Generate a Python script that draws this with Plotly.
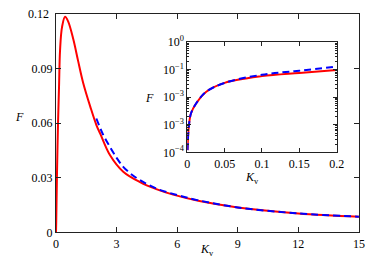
import plotly.graph_objects as go

# ---- data ----
k_red = [0, 0.002, 0.005, 0.012, 0.025, 0.05, 0.1, 0.15, 0.2, 0.3, 0.45, 0.6, 0.86, 1.1,
         1.35, 1.7, 2.0, 2.2, 2.67, 3.33, 4.16, 5.0, 5.8, 7.1, 9, 12, 15]
f_red = [0, 0.00085, 0.0026, 0.006, 0.0155, 0.033, 0.06, 0.08, 0.1, 0.113, 0.1185, 0.116,
         0.106, 0.094, 0.082, 0.069, 0.059, 0.054, 0.0425, 0.0333, 0.0276, 0.0236, 0.0207,
         0.0172, 0.0137, 0.0104, 0.0086]

k_blue = [2.0, 2.3, 2.67, 3.0, 3.33, 3.7, 4.16, 5, 6, 7, 9, 12, 15]
f_blue = [0.0626, 0.0545, 0.047, 0.041, 0.036, 0.0322, 0.0287, 0.0239, 0.0205, 0.0177,
          0.0137, 0.0104, 0.0086]

k_in = [0.0003, 0.002, 0.005, 0.012, 0.025, 0.05, 0.1, 0.15, 0.2]
f_in_red = [0.00012, 0.00085, 0.0026, 0.006, 0.0155, 0.033, 0.058, 0.076, 0.096]
f_in_blue = [0.00012, 0.00085, 0.0026, 0.006, 0.0155, 0.033, 0.065, 0.091, 0.13]

main_xticks = [0, 3, 6, 9, 12, 15]
main_yticks = [0, 0.03, 0.06, 0.09, 0.12]
main_yticktext = ["0", "0.03", "0.06", "0.09", "0.12"]
in_xticks = [0, 0.05, 0.1, 0.15, 0.2]
in_xticktext = ["0", "0.05", "0.1", "0.15", "0.2"]
in_yticks = [1, 0.1, 0.01, 0.001, 0.0001]
in_yticktext = ["10<sup>0</sup>", "10<sup>\u22121</sup>", "10<sup>\u22123</sup>",
                "10<sup>\u22123</sup>", "10<sup>\u22124</sup>"]

# page body has an 8px default margin: figure is drawn inside it
OFF = 8
W, H = 374 - 2 * OFF, 277 - 2 * OFF
FONT = "Liberation Serif"
RED, BLUE = "#ff0000", "#0000ff"

fig = go.Figure()
fig.add_trace(go.Scatter(x=k_red, y=f_red, mode="lines", line=dict(color=RED, width=2, shape="spline"),
                         xaxis="x", yaxis="y", showlegend=False))
fig.add_trace(go.Scatter(x=k_blue, y=f_blue, mode="lines",
                         line=dict(color=BLUE, width=2, dash="7px,4px", shape="spline"),
                         xaxis="x", yaxis="y", showlegend=False))
fig.add_trace(go.Scatter(x=k_in, y=f_in_red, mode="lines", line=dict(color=RED, width=2, shape="spline"),
                         xaxis="x2", yaxis="y2", showlegend=False))
fig.add_trace(go.Scatter(x=k_in, y=f_in_blue, mode="lines",
                         line=dict(color=BLUE, width=2, dash="7px,4px", shape="spline"),
                         xaxis="x2", yaxis="y2", showlegend=False))

def px_x(p):
    return (p - OFF) / W

def px_y(p):
    return 1 - (p - OFF) / H

TICKFONT = dict(family=FONT, size=12, color="black")
axis_common = dict(showline=True, linecolor="#222", linewidth=1, mirror="ticks", ticks="inside",
                   tickcolor="#222", showgrid=False, zeroline=False, automargin=False,
                   tickfont=TICKFONT)

fig.update_layout(
    width=W, height=H, margin=dict(l=0, r=0, t=0, b=0),
    paper_bgcolor="white", plot_bgcolor="white",
    xaxis=dict(domain=[px_x(56), px_x(359)], range=[0, 15.005], tickvals=main_xticks,
               ticklen=5, anchor="y", **axis_common),
    yaxis=dict(domain=[px_y(232.3), px_y(14)], range=[0, 0.12006], tickvals=main_yticks,
               ticktext=main_yticktext, ticklen=5, anchor="x", **axis_common),
    xaxis2=dict(domain=[px_x(187.3), px_x(336.7)], range=[0, 0.20007], tickvals=in_xticks,
                ticktext=in_xticktext, ticklen=4, anchor="y2", **axis_common),
    yaxis2=dict(domain=[px_y(152.3), px_y(42)], type="log", range=[-4, 0.001], tickvals=in_yticks,
                ticktext=in_yticktext, ticklen=4, anchor="x2",
                minor=dict(ticks="inside", ticklen=2, tickcolor="#222",
                           tickvals=[m * 10 ** e for e in range(-4, 0) for m in range(2, 10)]),
                **axis_common),
)

# top tick label of the main y axis (plotly drops it at the frame edge), placed on the y scale
fig.add_annotation(x=px_x(51), y=main_yticks[-1], xref="paper", yref="y", text=main_yticktext[-1],
                   showarrow=False, xanchor="right", yanchor="middle", font=TICKFONT)

ann_font = dict(family=FONT, size=12, color="black")
fig.add_annotation(x=px_x(13), y=px_y(117), xref="paper", yref="paper", text="<i>F</i>",
                   showarrow=False, font=ann_font)
fig.add_annotation(x=px_x(207), y=px_y(260), xref="paper", yref="paper",
                   text="<i>K</i><sub>v</sub>", showarrow=False, font=ann_font)
fig.add_annotation(x=px_x(149), y=px_y(98), xref="paper", yref="paper", text="<i>F</i>",
                   showarrow=False, font=ann_font)
fig.add_annotation(x=px_x(261), y=px_y(178), xref="paper", yref="paper",
                   text="<i>K</i><sub>v</sub>", showarrow=False, font=ann_font)

fig.write_html("out.html")
